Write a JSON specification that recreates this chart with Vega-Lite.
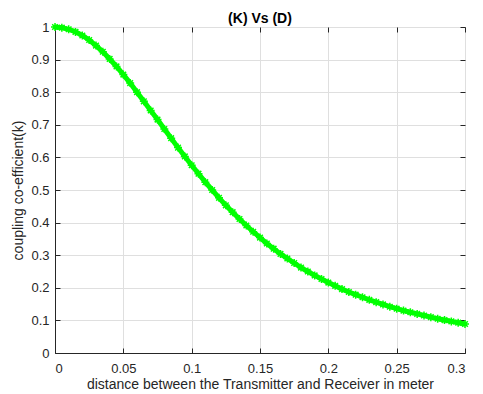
{
  "$schema": "https://vega.github.io/schema/vega-lite/v6.json",
  "width": 410,
  "height": 326,
  "autosize": "none",
  "padding": {"left": 55, "top": 27, "right": 18, "bottom": 41},
  "background": "white",
  "title": {"text": "(K) Vs (D)", "font": "Liberation Sans", "fontSize": 14, "fontWeight": "bold", "color": "#000000", "offset": -9, "anchor": "middle"},
  "config": {
    "view": {"stroke": "#262626", "strokeWidth": 1},
    "axis": {"labelFont": "Liberation Sans", "labelFontSize": 13, "labelColor": "#262626", "titleFont": "Liberation Sans", "titleFontSize": 14, "titleFontWeight": "normal", "titleColor": "#262626", "domainColor": "#262626", "tickColor": "#262626", "tickSize": -5, "gridColor": "#dfdfdf", "gridWidth": 1}
  },
  "data": {"values": [
    {"d": 0, "k": 1},
    {"d": 0.005, "k": 0.998},
    {"d": 0.01, "k": 0.993},
    {"d": 0.015, "k": 0.985},
    {"d": 0.02, "k": 0.974},
    {"d": 0.025, "k": 0.960},
    {"d": 0.03, "k": 0.943},
    {"d": 0.035, "k": 0.924},
    {"d": 0.04, "k": 0.902},
    {"d": 0.045, "k": 0.879},
    {"d": 0.05, "k": 0.854},
    {"d": 0.055, "k": 0.828},
    {"d": 0.06, "k": 0.800},
    {"d": 0.065, "k": 0.772},
    {"d": 0.07, "k": 0.744},
    {"d": 0.075, "k": 0.716},
    {"d": 0.08, "k": 0.687},
    {"d": 0.085, "k": 0.659},
    {"d": 0.09, "k": 0.630},
    {"d": 0.095, "k": 0.603},
    {"d": 0.1, "k": 0.576},
    {"d": 0.105, "k": 0.550},
    {"d": 0.11, "k": 0.524},
    {"d": 0.115, "k": 0.500},
    {"d": 0.12, "k": 0.476},
    {"d": 0.125, "k": 0.453},
    {"d": 0.13, "k": 0.432},
    {"d": 0.135, "k": 0.411},
    {"d": 0.14, "k": 0.391},
    {"d": 0.145, "k": 0.372},
    {"d": 0.15, "k": 0.354},
    {"d": 0.155, "k": 0.336},
    {"d": 0.16, "k": 0.320},
    {"d": 0.165, "k": 0.304},
    {"d": 0.17, "k": 0.290},
    {"d": 0.175, "k": 0.276},
    {"d": 0.18, "k": 0.262},
    {"d": 0.185, "k": 0.250},
    {"d": 0.19, "k": 0.238},
    {"d": 0.195, "k": 0.227},
    {"d": 0.2, "k": 0.216},
    {"d": 0.205, "k": 0.206},
    {"d": 0.21, "k": 0.196},
    {"d": 0.215, "k": 0.187},
    {"d": 0.22, "k": 0.179},
    {"d": 0.225, "k": 0.171},
    {"d": 0.23, "k": 0.163},
    {"d": 0.235, "k": 0.156},
    {"d": 0.24, "k": 0.149},
    {"d": 0.245, "k": 0.142},
    {"d": 0.25, "k": 0.136},
    {"d": 0.255, "k": 0.130},
    {"d": 0.26, "k": 0.125},
    {"d": 0.265, "k": 0.120},
    {"d": 0.27, "k": 0.115},
    {"d": 0.275, "k": 0.110},
    {"d": 0.28, "k": 0.105},
    {"d": 0.285, "k": 0.101},
    {"d": 0.29, "k": 0.097},
    {"d": 0.295, "k": 0.093},
    {"d": 0.3, "k": 0.089}
  ]},
  "resolve": {"axis": {"x": "independent", "y": "independent"}},
  "layer": [
    {
      "mark": {"type": "rule", "opacity": 0},
      "encoding": {
        "x": {"field": "d", "type": "quantitative", "scale": {"domain": [0, 0.3], "nice": false}, "axis": {"orient": "top", "labels": false, "grid": false, "domain": false, "title": null, "values": [0, 0.05, 0.1, 0.15, 0.2, 0.25, 0.3]}},
        "y": {"field": "k", "type": "quantitative", "scale": {"domain": [0, 1], "nice": false}, "axis": {"orient": "right", "labels": false, "grid": false, "domain": false, "title": null, "values": [0, 0.1, 0.2, 0.3, 0.4, 0.5, 0.6, 0.7, 0.8, 0.9, 1]}}
      }
    },
    {
      "mark": {"type": "line", "color": "#00ff00", "strokeWidth": 5, "clip": false},
      "encoding": {
        "x": {"field": "d", "type": "quantitative", "scale": {"domain": [0, 0.3], "nice": false}, "axis": {"orient": "bottom", "grid": true, "title": "distance between the Transmitter and Receiver in meter", "titlePadding": 2, "format": "~g", "labelPadding": 14, "values": [0, 0.05, 0.1, 0.15, 0.2, 0.25, 0.3]}},
        "y": {"field": "k", "type": "quantitative", "scale": {"domain": [0, 1], "nice": false}, "axis": {"orient": "left", "grid": true, "title": "coupling co-efficient(k)", "titlePadding": 5, "format": "~g", "labelPadding": 11, "values": [0, 0.1, 0.2, 0.3, 0.4, 0.5, 0.6, 0.7, 0.8, 0.9, 1]}}
      }
    },
    {
      "mark": {"type": "point", "shape": "M-1,0L1,0M0,-1L0,1M-0.7,-0.7L0.7,0.7M-0.7,0.7L0.7,-0.7", "filled": false, "color": "#00ff00", "strokeWidth": 1.5, "size": 64, "opacity": 1, "clip": false},
      "encoding": {
        "x": {"field": "d", "type": "quantitative", "scale": {"domain": [0, 0.3], "nice": false}, "axis": null},
        "y": {"field": "k", "type": "quantitative", "scale": {"domain": [0, 1], "nice": false}, "axis": null}
      }
    }
  ]
}
